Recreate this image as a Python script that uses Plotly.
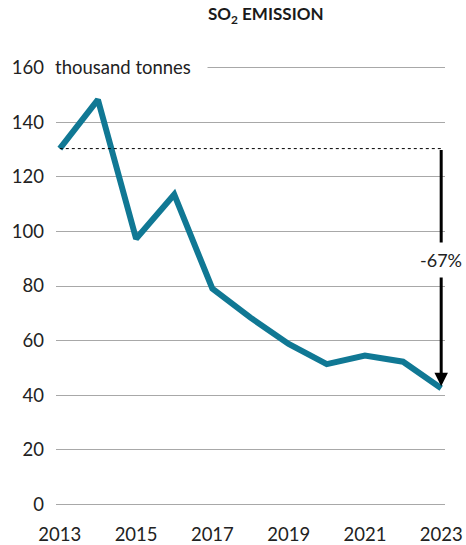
import plotly.graph_objects as go

# SO2 emissions, thousand tonnes
years = [2013, 2014, 2015, 2016, 2017, 2018, 2019, 2020, 2021, 2022, 2023]
emissions = [130.3, 148.2, 97.3, 113.5, 79.0, 68.4, 58.8, 51.4, 54.5, 52.3, 42.6]
y_ticks = [0, 20, 40, 60, 80, 100, 120, 140, 160]
x_ticks = [2013, 2015, 2017, 2019, 2021, 2023]

W, H = 466, 545
L, R, T, B = 56, 21, 62, 35
FONT = "Lato, 'Open Sans', sans-serif"
LINE_COLOR = "#107894"

start, end = emissions[0], emissions[-1]
change = (end - start) / start * 100

fig = go.Figure()
fig.add_trace(go.Scatter(
    x=years, y=emissions, mode="lines",
    line=dict(color=LINE_COLOR, width=6),
    hoverinfo="x+y", showlegend=False,
))

# dashed reference line at the first-year level
fig.add_shape(type="line", xref="x", yref="y",
              x0=years[0], x1=years[-1], y0=start, y1=start,
              line=dict(color="black", width=1, dash="3px,3px"), layer="above")

# arrow showing the total reduction
fig.add_annotation(x=years[-1], y=end, ax=years[-1], ay=start,
                   xref="x", yref="y", axref="x", ayref="y",
                   text="", showarrow=True, arrowhead=2, arrowsize=0.9,
                   arrowwidth=3, arrowcolor="black", standoff=2)
fig.add_annotation(x=years[-1], y=89.5, xref="x", yref="y",
                   text=f"{change:.0f}%", showarrow=False,
                   font=dict(family=FONT, size=18, color="#222"),
                   bgcolor="white", borderpad=6)

# unit label next to the top tick
plot_w = W - L - R
fig.add_annotation(x=(52 - L) / plot_w, y=160, xref="paper", yref="y",
                   xanchor="left", yanchor="middle", align="left",
                   text="thousand tonnes", showarrow=False, width=150,
                   font=dict(family=FONT, size=18.5, color="#222"),
                   bgcolor="white", borderpad=2)

# title
fig.add_annotation(x=(266 - L) / plot_w, y=1, xref="paper", yref="paper",
                   yanchor="bottom", yshift=33, xanchor="center",
                   text="<b>SO<sub>2</sub> EMISSION</b>", showarrow=False,
                   font=dict(family=FONT, size=17, color="#1a1a1a"))

fig.update_layout(
    width=W, height=H,
    margin=dict(l=L, r=R, t=T, b=B, autoexpand=False),
    paper_bgcolor="white", plot_bgcolor="white",
    font=dict(family=FONT, size=18.5, color="#222"),
    xaxis=dict(range=[2012.9, 2023.1], tickvals=x_ticks, showgrid=False,
               zeroline=False, showline=False, ticks="", automargin=False,
               ticklabelstandoff=11, fixedrange=True),
    yaxis=dict(range=[-2, 162], tickvals=y_ticks, showgrid=True,
               gridcolor="#a8a8a8", gridwidth=1, zeroline=False,
               showline=False, ticks="", automargin=False,
               ticklabelstandoff=11, fixedrange=True),
)

fig.write_html("out.html")
